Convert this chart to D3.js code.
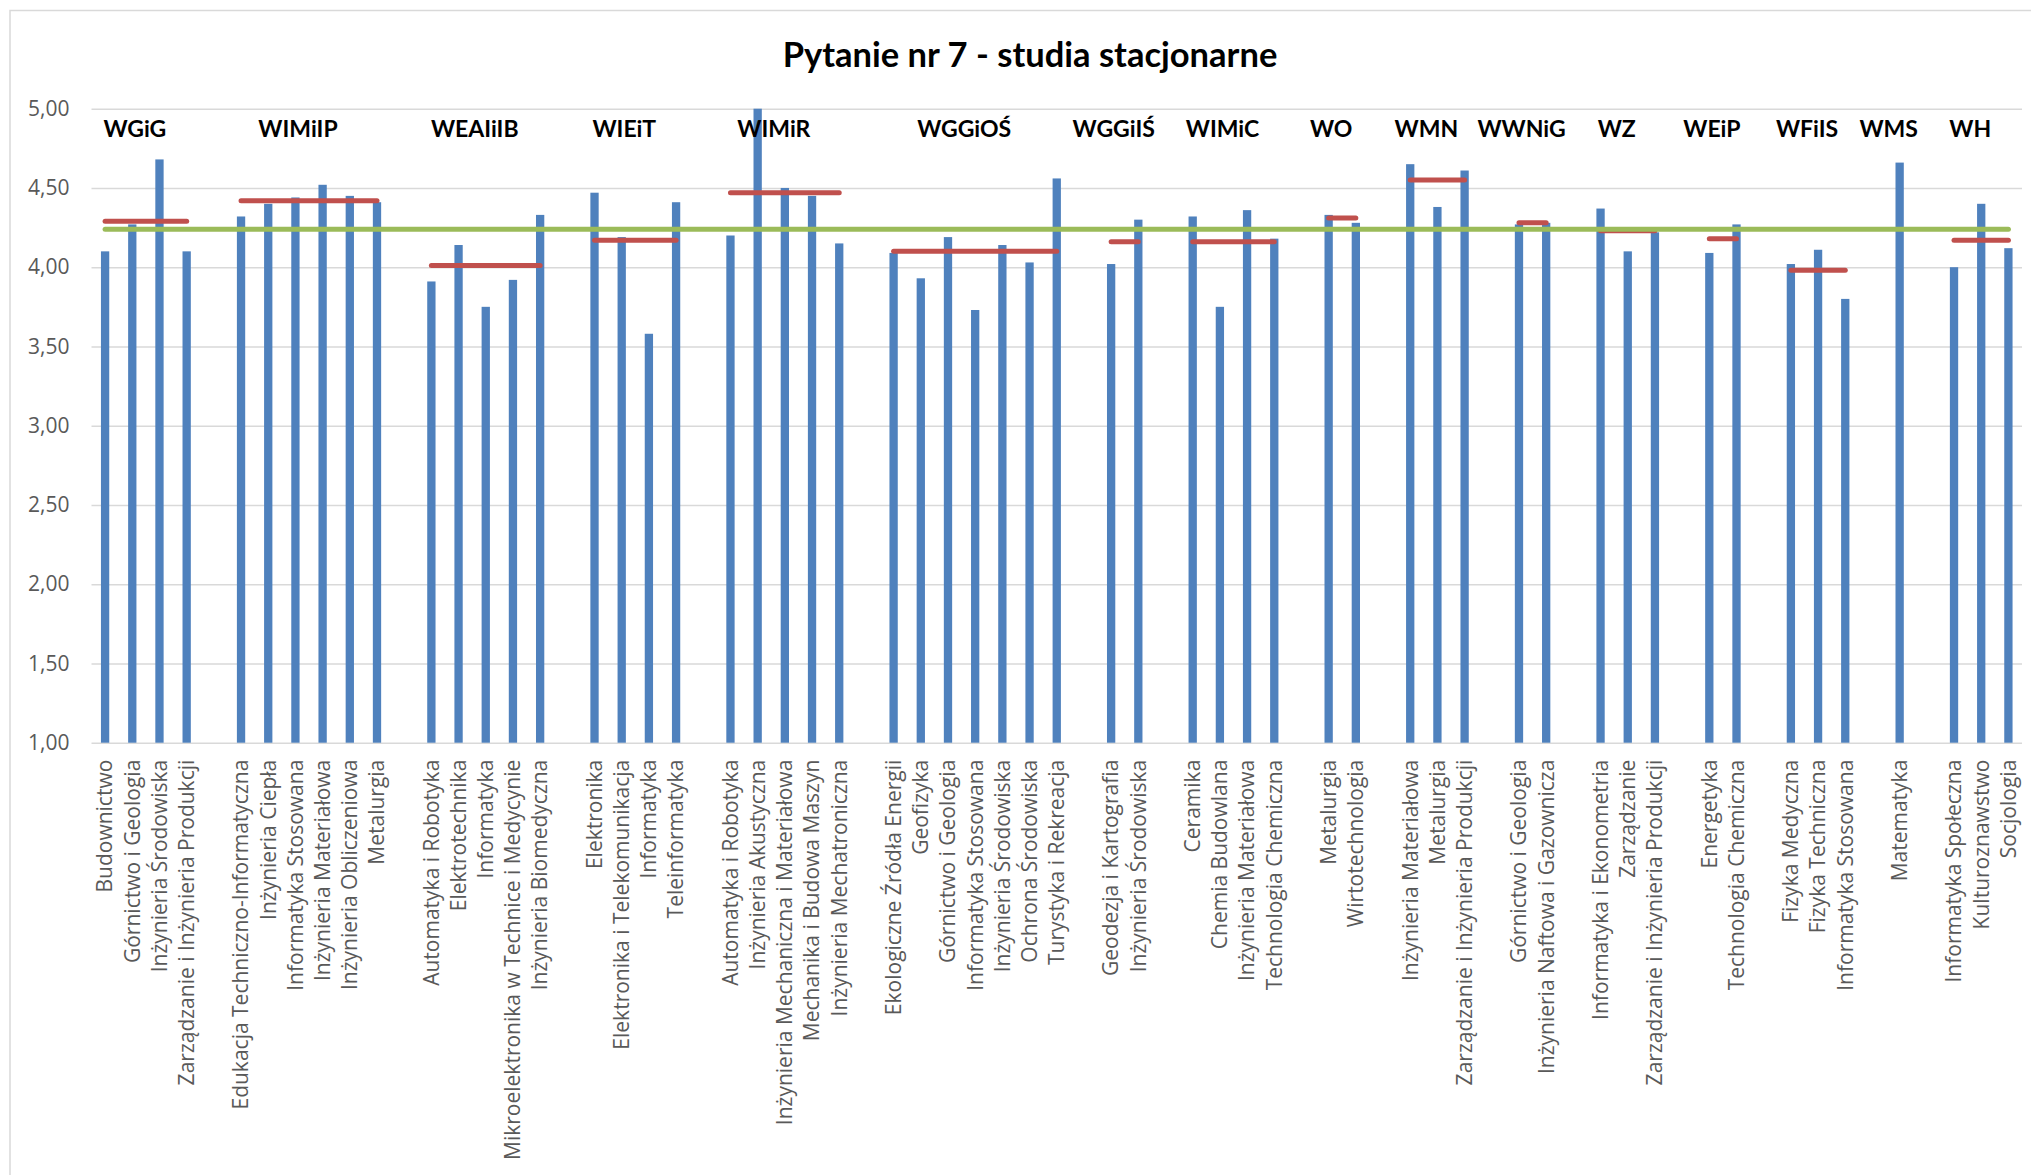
<!DOCTYPE html>
<html>
<head>
<meta charset="utf-8">
<script src="https://cdn.jsdelivr.net/npm/d3@7"></script>
<style>
  html, body { margin: 0; padding: 0; background: #fff; }
  svg { display: block; }
</style>
</head>
<body>
<div id="chart"></div>
<script>
// ---------------- DATA ----------------
const title = "Pytanie nr 7 - studia stacjonarne";

const facultyNames = ["WGiG","WIMiIP","WEAIiIB","WIEiT","WIMiR","WGGiOŚ","WGGiIŚ","WIMiC","WO","WMN","WWNiG","WZ","WEiP","WFiIS","WMS","WH"];

// faculty mean (red lines)
const facultyMeans = [4.29, 4.42, 4.01, 4.17, 4.47, 4.10, 4.16, 4.16, 4.31, 4.55, 4.28, 4.23, 4.18, 3.98, 4.66, 4.17];

// overall mean (green line)
const overallMean = 4.24;

const programmes = [
  "Budownictwo","Górnictwo i Geologia","Inżynieria Środowiska","Zarządzanie i Inżynieria Produkcji",
  "Edukacja Techniczno-Informatyczna","Inżynieria Ciepła","Informatyka Stosowana","Inżynieria Materiałowa","Inżynieria Obliczeniowa","Metalurgia",
  "Automatyka i Robotyka","Elektrotechnika","Informatyka","Mikroelektronika w Technice i Medycynie","Inżynieria Biomedyczna",
  "Elektronika","Elektronika i Telekomunikacja","Informatyka","Teleinformatyka",
  "Automatyka i Robotyka","Inżynieria Akustyczna","Inżynieria Mechaniczna i Materiałowa","Mechanika i Budowa Maszyn","Inżynieria Mechatroniczna",
  "Ekologiczne Źródła Energii","Geofizyka","Górnictwo i Geologia","Informatyka Stosowana","Inżynieria Środowiska","Ochrona Środowiska","Turystyka i Rekreacja",
  "Geodezja i Kartografia","Inżynieria Środowiska",
  "Ceramika","Chemia Budowlana","Inżynieria Materiałowa","Technologia Chemiczna",
  "Metalurgia","Wirtotechnologia",
  "Inżynieria Materiałowa","Metalurgia","Zarządzanie i Inżynieria Produkcji",
  "Górnictwo i Geologia","Inżynieria Naftowa i Gazownicza",
  "Informatyka i Ekonometria","Zarządzanie","Zarządzanie i Inżynieria Produkcji",
  "Energetyka","Technologia Chemiczna",
  "Fizyka Medyczna","Fizyka Techniczna","Informatyka Stosowana",
  "Matematyka",
  "Informatyka Społeczna","Kulturoznawstwo","Socjologia"
];

const programmeFaculty = [
  "WGiG","WGiG","WGiG","WGiG",
  "WIMiIP","WIMiIP","WIMiIP","WIMiIP","WIMiIP","WIMiIP",
  "WEAIiIB","WEAIiIB","WEAIiIB","WEAIiIB","WEAIiIB",
  "WIEiT","WIEiT","WIEiT","WIEiT",
  "WIMiR","WIMiR","WIMiR","WIMiR","WIMiR",
  "WGGiOŚ","WGGiOŚ","WGGiOŚ","WGGiOŚ","WGGiOŚ","WGGiOŚ","WGGiOŚ",
  "WGGiIŚ","WGGiIŚ",
  "WIMiC","WIMiC","WIMiC","WIMiC",
  "WO","WO",
  "WMN","WMN","WMN",
  "WWNiG","WWNiG",
  "WZ","WZ","WZ",
  "WEiP","WEiP",
  "WFiIS","WFiIS","WFiIS",
  "WMS",
  "WH","WH","WH"
];

const scores = [
  4.10, 4.27, 4.68, 4.10,
  4.32, 4.40, 4.44, 4.52, 4.45, 4.41,
  3.91, 4.14, 3.75, 3.92, 4.33,
  4.47, 4.19, 3.58, 4.41,
  4.20, 5.00, 4.50, 4.45, 4.15,
  4.09, 3.93, 4.19, 3.73, 4.14, 4.03, 4.56,
  4.02, 4.30,
  4.32, 3.75, 4.36, 4.18,
  4.33, 4.28,
  4.65, 4.38, 4.61,
  4.27, 4.28,
  4.37, 4.10, 4.22,
  4.09, 4.27,
  4.02, 4.11, 3.80,
  4.66,
  4.00, 4.40, 4.12
];

const yTicks = [1.0, 1.5, 2.0, 2.5, 3.0, 3.5, 4.0, 4.5, 5.0];

// ---------------- LAYOUT ----------------
const W = 2031, H = 1175;
const plot = { left: 91.5, right: 2022, top: 108.7, bottom: 742.7 };

const svg = d3.select("#chart").append("svg")
  .attr("width", W).attr("height", H)
  .attr("viewBox", `0 0 ${W} ${H}`);

svg.append("rect").attr("x", 0).attr("y", 0).attr("width", W).attr("height", H).attr("fill", "#fff");
// chart-area border (only left & top visible in the crop)
svg.append("rect")
  .attr("x", 10).attr("y", 10.5).attr("width", W + 40).attr("height", H + 40)
  .attr("fill", "#fff").attr("stroke", "#D9D9D9").attr("stroke-width", 1.5);

// category slots with blank gaps between faculties
const slots = [];
programmes.forEach((p, i) => {
  if (i > 0 && programmeFaculty[i] !== programmeFaculty[i - 1]) slots.push("gap" + i);
  slots.push("p" + i);
});

const x = d3.scaleBand().domain(slots).range([plot.left, plot.right]).padding(0);
const y = d3.scaleLinear().domain([1, 5]).range([plot.bottom, plot.top]);
const cx = i => x("p" + i) + x.bandwidth() / 2;

const locale = d3.formatLocale({ decimal: ",", thousands: " ", grouping: [3], currency: ["", " zł"] });
const fmt = locale.format(".2f");

// y axis + gridlines
const yAxis = svg.append("g")
  .attr("transform", `translate(${plot.left},0)`)
  .call(d3.axisLeft(y).tickValues(yTicks).tickFormat(fmt)
    .tickSize(-(plot.right - plot.left)).tickPadding(22));
yAxis.select(".domain").remove();
yAxis.selectAll(".tick line").attr("stroke", "#D9D9D9").attr("stroke-width", 1.5);
yAxis.selectAll(".tick text")
  .attr("fill", "#595959")
  .style("font-family", "'Open Sans', sans-serif")
  .style("font-size", "21px");

// x axis labels
const xAxis = svg.append("g")
  .attr("transform", `translate(0,${plot.bottom})`)
  .call(d3.axisBottom(x)
    .tickValues(slots.filter(s => s[0] === "p"))
    .tickFormat(s => programmes[+s.slice(1)])
    .tickSize(0));
xAxis.select(".domain").remove();
xAxis.selectAll(".tick text")
  .attr("transform", "rotate(-90)")
  .attr("text-anchor", "end")
  .attr("x", -17)
  .attr("y", 0)
  .attr("dy", "0.35em")
  .attr("fill", "#595959")
  .style("font-family", "'Open Sans', sans-serif")
  .style("font-size", "21px");

// bars
const barW = 8.3;
svg.append("g").selectAll("rect")
  .data(scores)
  .join("rect")
  .attr("x", (d, i) => cx(i) - barW / 2)
  .attr("width", barW)
  .attr("y", d => y(d))
  .attr("height", d => y(1) - y(d))
  .attr("fill", "#4F81BD");

// faculty means (red)
const facultyIdx = facultyNames.map(f => {
  const idx = programmeFaculty.map((g, i) => g === f ? i : -1).filter(i => i >= 0);
  return { first: idx[0], last: idx[idx.length - 1] };
});
svg.append("g").selectAll("line")
  .data(facultyNames.map((f, k) => ({ f, m: facultyMeans[k], ...facultyIdx[k] })).filter(d => d.last > d.first))
  .join("line")
  .attr("x1", d => cx(d.first)).attr("x2", d => cx(d.last))
  .attr("y1", d => y(d.m)).attr("y2", d => y(d.m))
  .attr("stroke", "#C0504D").attr("stroke-width", 5).attr("stroke-linecap", "round");

// overall mean (green)
svg.append("line")
  .attr("x1", cx(0)).attr("x2", cx(programmes.length - 1))
  .attr("y1", y(overallMean)).attr("y2", y(overallMean))
  .attr("stroke", "#9BBB59").attr("stroke-width", 5).attr("stroke-linecap", "round");

// faculty labels
svg.append("g").selectAll("text")
  .data(facultyNames.map((f, k) => ({ f, ...facultyIdx[k] })))
  .join("text")
  .attr("x", d => (cx(d.first) + cx(d.last)) / 2 - 11)
  .attr("y", 137)
  .attr("text-anchor", "middle")
  .attr("fill", "#000")
  .style("font-family", "Lato, sans-serif")
  .style("font-weight", "bold")
  .style("font-size", "23px")
  .text(d => d.f);

// title
svg.append("text")
  .attr("x", 1030).attr("y", 67)
  .attr("text-anchor", "middle")
  .attr("fill", "#000")
  .style("font-family", "Lato, sans-serif")
  .style("font-weight", "bold")
  .style("font-size", "34.5px")
  .text(title);
</script>
</body>
</html>
